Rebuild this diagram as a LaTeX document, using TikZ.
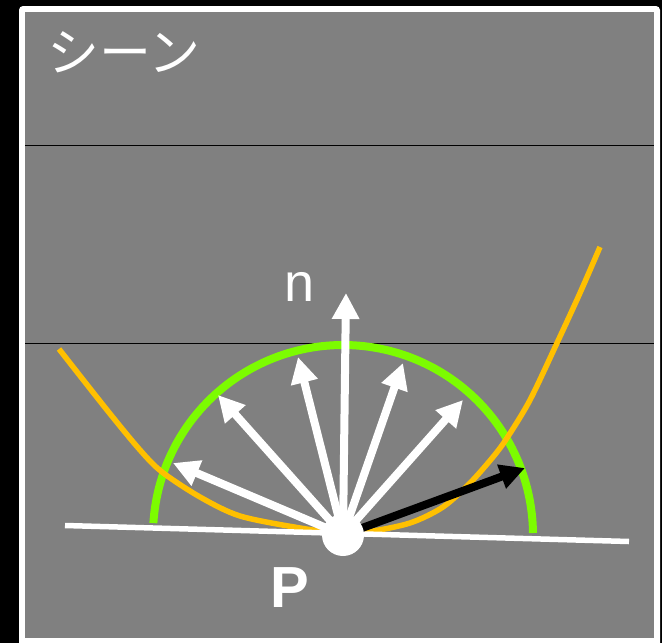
\documentclass[tikz,border=0pt]{standalone}
\usepackage{fontspec}
\setmainfont{Liberation Sans}
\newfontfamily\cjkfont{Noto Sans CJK JP}
\usetikzlibrary{arrows.meta}
\definecolor{bggray}{RGB}{128,128,128}
\definecolor{lawn}{RGB}{124,252,0}
\definecolor{amber}{RGB}{255,192,0}
\begin{document}
\begin{tikzpicture}[x=1pt,y=-1pt,
  vec/.style={line width=8pt, white, -{Triangle[length=26pt,width=26pt]}},
  blackvec/.style={line width=8pt, black, -{Triangle[length=25pt,width=24pt]}},
  sepline/.style={line width=1pt, black},
  hemi/.style={line width=8pt, lawn},
  brdf/.style={line width=5.5pt, amber},
  surface/.style={line width=5.5pt, white},
  label/.style={white, inner sep=0pt, anchor=base west}]
\useasboundingbox (0,0) rectangle (662,643);
\fill[black] (0,0) rectangle (662,643);
\clip (0,0) rectangle (662,643);
\fill[white, rounded corners=4pt] (19,6) rectangle (660,655);
\fill[bggray] (25,12) rectangle (654,638);
% separator lines
\coordinate (s1l) at (25,145.5); \coordinate (s1r) at (654,145.5);
\coordinate (s2l) at (25,343);   \coordinate (s2r) at (654,343);
\draw[sepline] (s1l) -- (s1r);
\draw[sepline] (s2l) -- (s2r);
% title
\node[label, font=\cjkfont\fontsize{52}{60}\selectfont] (title) at (47,71) {シーン};
% hemisphere
\draw[hemi] plot[domain=0.6:176.4, samples=120] ({343+190*cos(\x)}, {535-190*sin(\x)});
% BRDF lobe curve
\draw[brdf] plot[smooth] coordinates {(59,349) (107,410) (140,450) (162,472) (200,497) (240,516) (300,528) (340,533) (367,532) (410,523) (443,507) (470,483) (493,457) (507,438) (530,400) (557,343) (580,293) (600,247)};
% surface line
\coordinate (surfL) at (65,525.5);
\coordinate (surfR) at (629,541.5);
\draw[surface] (surfL) -- (surfR);
% arrow end points
\coordinate (P0) at (343,535);
\coordinate (tn) at (346,293);
\coordinate (t1) at (298,357);
\coordinate (t2) at (218,395);
\coordinate (t3) at (173,463);
\coordinate (t4) at (403,363);
\coordinate (t5) at (463,400);
\coordinate (tb) at (525,468);
\draw[vec] (P0) -- (t3);
\draw[vec] (P0) -- (t2);
\draw[vec] (P0) -- (t1);
\draw[vec] (P0) -- (tn);
\draw[vec] (P0) -- (t4);
\draw[vec] (P0) -- (t5);
\draw[blackvec] (P0) -- (tb);
% point P
\node[circle, fill=white, minimum size=42pt, inner sep=0pt] (P) at (P0) {};
% labels
\node[label, font=\fontsize{54}{60}\selectfont] (nlabel) at (284.5,301) {n};
\node[label, font=\bfseries\fontsize{58}{64}\selectfont] (plabel) at (270.5,607) {P};
\end{tikzpicture}
\end{document}
